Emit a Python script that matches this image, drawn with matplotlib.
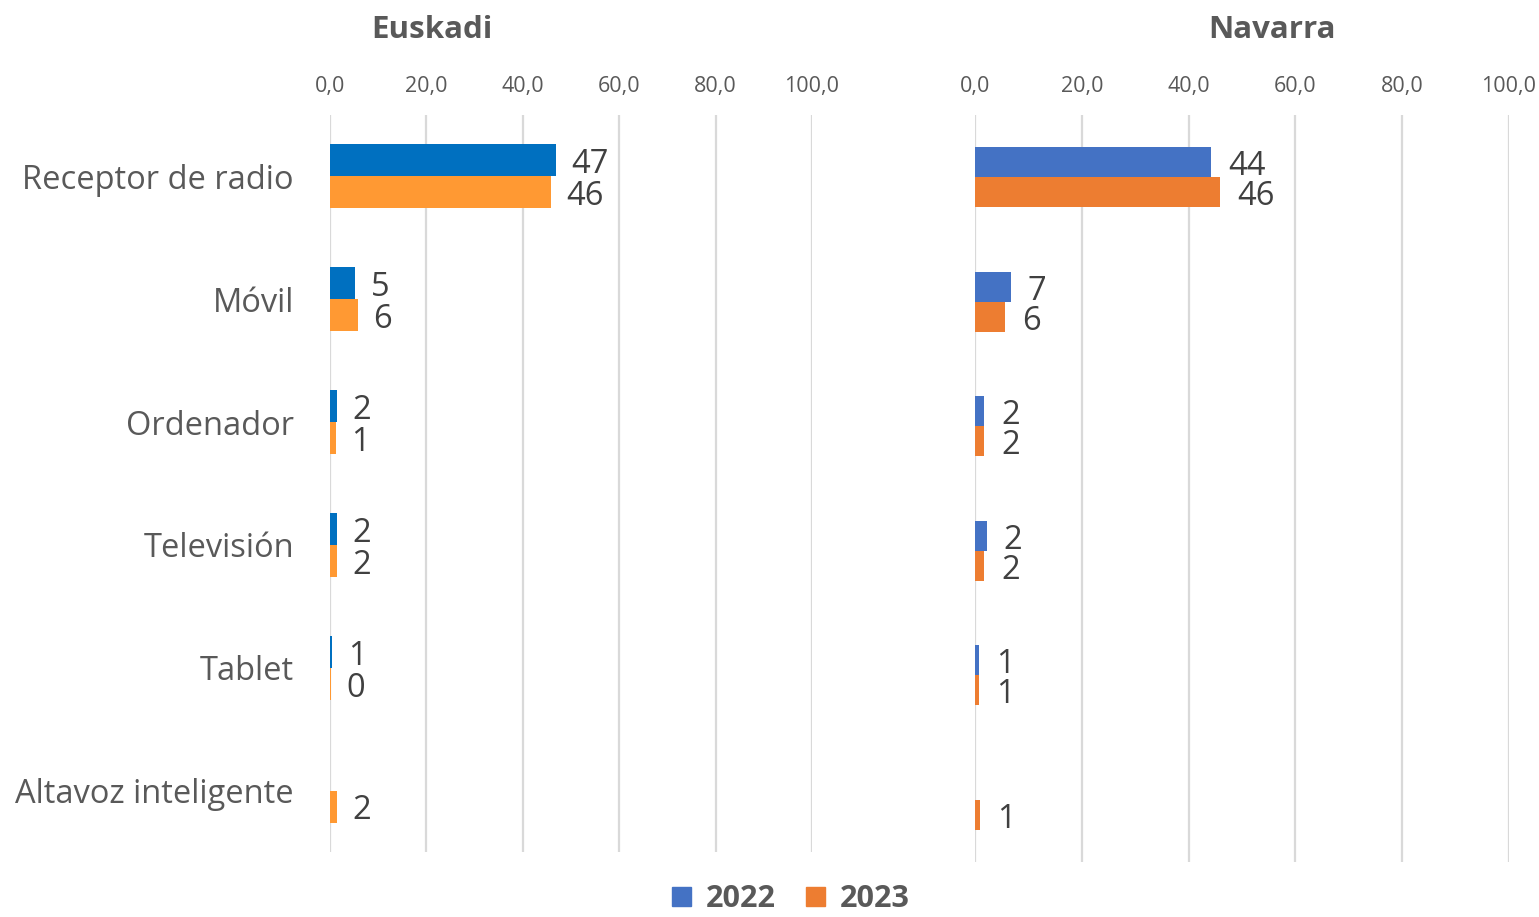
import numpy as np
import matplotlib.pyplot as plt
from matplotlib.patches import Patch

categories = ['Receptor de radio', 'Móvil', 'Ordenador', 'Televisión', 'Tablet', 'Altavoz inteligente']

# Euskadi (% values)
eus_2022 = [46.9, 5.2, 1.5, 1.5, 0.5, np.nan]
eus_2023 = [45.9, 5.8, 1.2, 1.5, 0.2, 1.5]
eus_lab_2022 = ['47', '5', '2', '2', '1', '']
eus_lab_2023 = ['46', '6', '1', '2', '0', '2']

# Navarra
nav_2022 = [44.2, 6.7, 1.7, 2.2, 0.7, np.nan]
nav_2023 = [45.9, 5.6, 1.7, 1.7, 0.7, 0.9]
nav_lab_2022 = ['44', '7', '2', '2', '1', '']
nav_lab_2023 = ['46', '6', '2', '2', '1', '1']

xticks = [0, 20, 40, 60, 80, 100]

FONT = 'Open Sans'
TXT = '#595959'
LAB = '#404040'
GRID = '#d9d9d9'

fig = plt.figure(figsize=(15.39, 9.17), dpi=100)
plt.rcParams['font.family'] = [FONT, 'DejaVu Sans']


def panel(rect, v22, v23, l22, l23, c22, c23, h, show_cats):
    ax = fig.add_axes(rect)
    y = np.arange(len(categories))
    ax.barh(y - h / 2, v22, height=h, color=c22, zorder=3)
    ax.barh(y + h / 2, v23, height=h, color=c23, zorder=3)
    # small downward nudge so the digits sit centred on the bars
    for yi, v, t in zip(y, v22, l22):
        if t:
            ax.text(v + 3.2, yi - h / 2 + 0.035, t, va='center', ha='left', fontsize=23.5, color=LAB)
    for yi, v, t in zip(y, v23, l23):
        if t:
            ax.text(v + 3.2, yi + h / 2 + 0.035, t, va='center', ha='left', fontsize=23.5, color=LAB)
    ax.set_xlim(0, 100)
    ax.set_ylim(len(categories) - 0.5, -0.5)
    ax.set_xticks(xticks)
    ax.set_xticklabels([f'{t:.1f}'.replace('.', ',') for t in xticks], fontsize=15.5, color=TXT)
    ax.xaxis.tick_top()
    ax.tick_params(axis='x', length=0, pad=13)
    ax.grid(axis='x', color=GRID, linewidth=1.6, zorder=0)
    for s in ax.spines.values():
        s.set_visible(False)
    ax.set_yticks(y)
    if show_cats:
        ax.set_yticklabels(categories, fontsize=23.5, color=TXT)
        ax.tick_params(axis='y', length=0, pad=26)
    else:
        ax.set_yticklabels([])
        ax.tick_params(axis='y', length=0)
    return ax


panel([330 / 1539, 1 - 852 / 917, (812 - 330) / 1539, (852 - 115) / 917],
      eus_2022, eus_2023, eus_lab_2022, eus_lab_2023, '#0070c0', '#ff9933', 0.26, True)
panel([975 / 1539, 1 - 862 / 917, (1509 - 975) / 1539, (862 - 115) / 917],
      nav_2022, nav_2023, nav_lab_2022, nav_lab_2023, '#4472c4', '#ed7d31', 0.24, False)

fig.text(432 / 1539, 1 - 30 / 917, 'Euskadi', ha='center', va='center',
         fontsize=22.5, fontweight='bold', color=TXT)
fig.text(1272 / 1539, 1 - 30 / 917, 'Navarra', ha='center', va='center',
         fontsize=22.5, fontweight='bold', color=TXT)

handles = [Patch(color='#4472c4', label='2022'), Patch(color='#ed7d31', label='2023')]
fig.legend(handles=handles, loc='center', bbox_to_anchor=(791 / 1539, 1 - 899 / 917), ncol=2,
           frameon=False, prop={'size': 22, 'weight': 'bold'}, labelcolor=TXT,
           handlelength=0.6, handleheight=0.6, handletextpad=0.5, columnspacing=1.0,
           borderpad=0.1)

fig.savefig('out.png', dpi=100)
